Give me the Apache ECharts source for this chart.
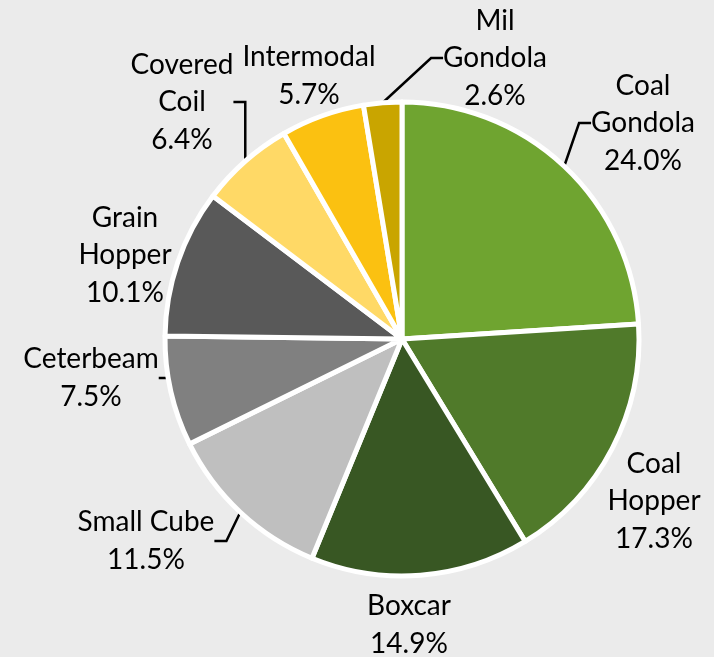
<!DOCTYPE html>
<html>
<head>
<meta charset="utf-8">
<script src="https://cdn.jsdelivr.net/npm/echarts@6/dist/echarts.min.js"></script>
<style>
  html, body { margin: 0; padding: 0; background: #ebebeb; }
  #pie { width: 714px; height: 657px; }
</style>
</head>
<body>
<div id="pie"></div>
<script>
// 车型占比
const categories = ['Coal Gondola', 'Coal Hopper', 'Boxcar', 'Small Cube', 'Ceterbeam',
  'Grain Hopper', 'Covered Coil', 'Intermodal', 'Mil Gondola'];
const shares = [24.0, 17.3, 14.9, 11.5, 7.5, 10.1, 6.4, 5.7, 2.6];
// label text as printed (line breaks)
const labelNames = ['Coal\nGondola', 'Coal\nHopper', 'Boxcar', 'Small Cube', 'Ceterbeam',
  'Grain\nHopper', 'Covered\nCoil', 'Intermodal', 'Mil\nGondola'];
const colors = ['#6fa430', '#507a2a', '#385723', '#bfbfbf', '#808080',
  '#595959', '#ffd966', '#fbc111', '#c9a500'];
const withLeader = [true, false, false, true, true, false, true, false, true];

// label centres (px)
const labelPos = [[643, 123], [654, 501], [409, 625], [146, 541], [91, 378],
  [125, 255], [182, 102], [309, 76], [495, 58]];

let chart = echarts.init(document.getElementById('pie'));

let option = {
  backgroundColor: '#ebebeb',
  animation: false,
  series: [
    {
      type: 'pie',
      center: [402, 339],
      radius: 237,
      startAngle: 90,
      clockwise: true,
      avoidLabelOverlap: false,
      itemStyle: {
        borderColor: '#ffffff',
        borderWidth: 5,
      },
      label: {
        show: true,
        position: 'outside',
        fontFamily: 'Lato',
        fontSize: 28,
        lineHeight: 37.5,
        color: '#000',
        align: 'center',
        formatter: (p) => labelNames[p.dataIndex] + '\n' + p.value.toFixed(1) + '%',
      },
      labelLine: {
        length: 10,
        length2: 12,
        lineStyle: { color: '#000', width: 2.5 },
      },
      labelLayout: (params) => ({
        x: labelPos[params.dataIndex][0],
        y: labelPos[params.dataIndex][1],
        align: 'center',
        verticalAlign: 'middle',
      }),
      data: categories.map((name, i) => ({
        name: name,
        value: shares[i],
        itemStyle: { color: colors[i] },
        labelLine: { show: withLeader[i] },
      })),
    },
  ],
};
chart.setOption(option);
</script>
</body>
</html>
